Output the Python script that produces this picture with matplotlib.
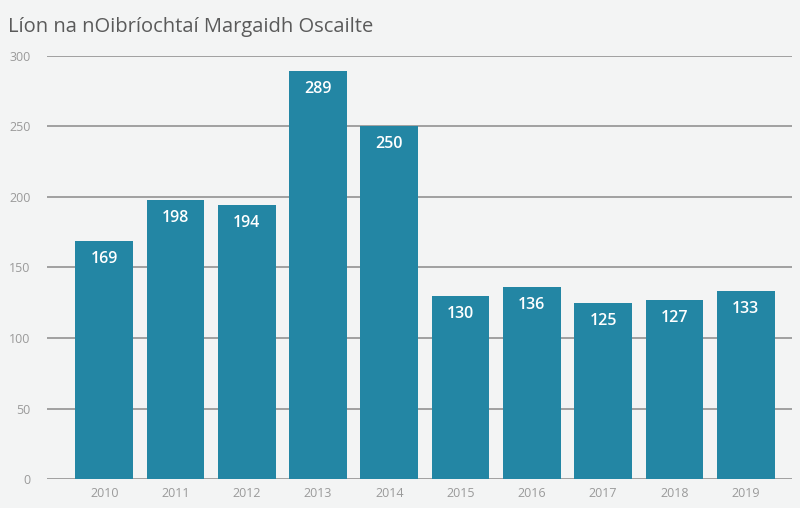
import matplotlib
matplotlib.use("Agg")
import matplotlib.pyplot as plt

years = ["2010", "2011", "2012", "2013", "2014", "2015", "2016", "2017", "2018", "2019"]
values = [169, 198, 194, 289, 250, 130, 136, 125, 127, 133]
yticks = [0, 50, 100, 150, 200, 250, 300]
title = "Líon na nOibríochtaí Margaidh Oscailte"

plt.rcParams['font.family'] = ['Open Sans', 'DejaVu Sans']
bg = "#f3f4f4"
bar_color = "#2386a4"

fig = plt.figure(figsize=(8, 5.08), dpi=100, facecolor=bg)
ax = fig.add_axes([0.059, 0.057, 0.931, 0.833])
ax.set_facecolor(bg)

x = list(range(len(years)))
ax.bar(x, values, width=0.81, color=bar_color, zorder=3)
for xi, v in zip(x, values):
    ax.annotate(str(v), (xi, v), xytext=(0, -18), textcoords="offset pixels",
                ha="center", va="center", color="white", fontsize=11.5, fontweight="semibold", zorder=4)

ax.set_xlim(-0.8, 9.65)
ax.set_ylim(0, 300)
ax.set_yticks(yticks)
ax.set_xticks(x)
ax.set_xticklabels(years)
ax.grid(axis="y", color="#a0a0a0", linewidth=1.4, zorder=1)
ax.tick_params(axis="both", length=0, labelsize=9, labelcolor="#9a9a9a")
ax.tick_params(axis="y", pad=12)
ax.tick_params(axis="x", pad=6)
for s in ax.spines.values():
    s.set_visible(False)

fig.text(0.01, 0.947, title, fontsize=14.5, color="#5a5a5a", ha="left", va="center")

fig.savefig("out.png", dpi=100, facecolor=bg)
